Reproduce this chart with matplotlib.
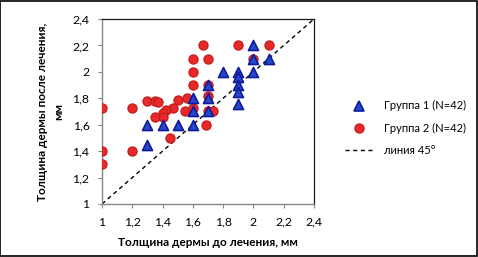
import matplotlib
matplotlib.use("Agg")
import matplotlib.pyplot as plt
from matplotlib.patches import Rectangle
from matplotlib.lines import Line2D
from matplotlib.ticker import FuncFormatter

plt.rcParams['font.family'] = ['Lato', 'DejaVu Sans']

g1_x = [1.30, 1.30, 1.40, 1.50, 1.60, 1.60, 1.60, 1.70, 1.70, 1.70,
        1.80, 1.90, 1.90, 1.90, 1.90, 1.90, 2.00, 2.00, 2.00, 2.10]
g1_y = [1.45, 1.60, 1.60, 1.60, 1.60, 1.70, 1.80, 1.70, 1.80, 1.90,
        2.00, 2.00, 1.96, 1.90, 1.85, 1.76, 2.00, 2.10, 2.20, 2.10]

g2_x = [1.00, 1.20, 1.00, 1.20, 1.00, 1.30, 1.35, 1.37, 1.50, 1.56,
        1.47, 1.42, 1.40, 1.55, 1.60, 1.35, 1.40, 1.45, 1.60, 1.60,
        1.60, 1.67, 1.90, 2.10, 1.70, 2.00, 1.70, 1.70, 1.70, 1.73, 1.69]
g2_y = [1.73, 1.73, 1.40, 1.40, 1.30, 1.78, 1.78, 1.77, 1.79, 1.80,
        1.73, 1.71, 1.69, 1.70, 1.73, 1.66, 1.66, 1.50, 2.10, 2.00,
        1.90, 2.20, 2.20, 2.20, 2.10, 2.10, 1.90, 1.82, 1.70, 1.70, 1.60]

line_x = [1.0, 2.4]
line_y = [1.0, 2.4]

ticks = [1.0, 1.2, 1.4, 1.6, 1.8, 2.0, 2.2, 2.4]

labels = ["Группа 1 (N=42)", "Группа 2 (N=42)", "линия 45°"]

fig = plt.figure(figsize=(4.78, 2.57), dpi=100)
ax = fig.add_axes([102/478, 1-204/257, 212/478, 185/257])

ax.scatter(g2_x, g2_y, marker='o', s=42, facecolor='#e8292b', edgecolor='#c81e1e',
           linewidth=1.0, zorder=3)
ax.scatter(g1_x, g1_y, marker='^', s=52, facecolor='#2448c8', edgecolor='#101a9c',
           linewidth=1.2, zorder=4)
ax.plot(line_x, line_y, color='black', linestyle=(0, (3, 2.5)), linewidth=1.0, zorder=2)

ax.set_xlim(1.0, 2.4)
ax.set_ylim(1.0, 2.4)
ax.set_xticks(ticks)
ax.set_yticks(ticks)
fmt = FuncFormatter(lambda v, p: ('%g' % round(v, 1)).replace('.', ','))
ax.xaxis.set_major_formatter(fmt)
ax.yaxis.set_major_formatter(fmt)
ax.tick_params(axis='both', direction='out', length=3, width=0.8, color='#868686',
               labelsize=8.8, pad=6)

for s in ['left', 'bottom']:
    ax.spines[s].set_color('#868686')
    ax.spines[s].set_linewidth(1.0)
for s in ['top', 'right']:
    ax.spines[s].set_color('#1a1a1a')
    ax.spines[s].set_linewidth(0.9)

ax.set_xlabel("Толщина дермы до лечения, мм", fontsize=8.5, fontweight='bold', labelpad=7)
ax.set_ylabel("Толщина дермы после лечения,\nмм", fontsize=8.5, fontweight='bold',
              labelpad=6, linespacing=1.6)

handles = [
    Line2D([], [], marker='^', linestyle='none', markersize=7, markerfacecolor='#2448c8',
           markeredgecolor='#101a9c', markeredgewidth=1.2),
    Line2D([], [], marker='o', linestyle='none', markersize=6.5, markerfacecolor='#e8292b',
           markeredgecolor='#c81e1e'),
    Line2D([], [], color='black', linestyle=(0, (3, 2.5)), linewidth=1.0),
]
fig.legend(handles, labels, loc='center left', bbox_to_anchor=(335/478, 1-128/257),
           frameon=False, fontsize=8, handlelength=2.6, labelspacing=1.0, handletextpad=0.9)

fig.patches.append(Rectangle((0.001, 0.002), 0.997, 0.995, transform=fig.transFigure,
                             fill=False, edgecolor='black', linewidth=1.2))

fig.savefig("out.png", dpi=100)
